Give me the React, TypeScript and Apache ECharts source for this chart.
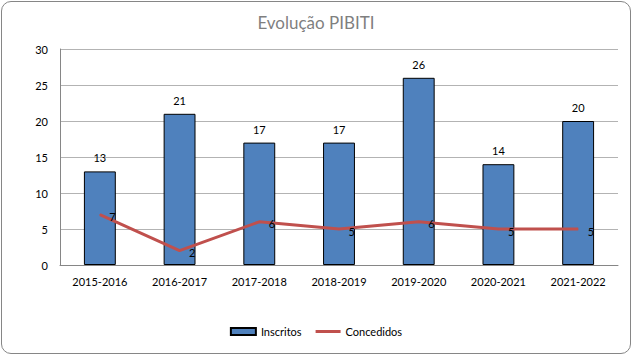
import React, { useEffect, useRef } from "react";
import * as echarts from "echarts";

const categories = ["2015-2016", "2016-2017", "2017-2018", "2018-2019", "2019-2020", "2020-2021", "2021-2022"];
const inscritos = [13, 21, 17, 17, 26, 14, 20];
const concedidos = [7, 2, 6, 5, 6, 5, 5];
const FONT = "Lato, 'Open Sans', sans-serif";

export default function App() {
  const ref = useRef<HTMLDivElement>(null);
  useEffect(() => {
    const chart = echarts.init(ref.current!, null, { renderer: "svg" });
    chart.setOption({
      animation: false,
      backgroundColor: "#ffffff",
      textStyle: { fontFamily: FONT },
      title: {
        text: "Evolução PIBITI",
        left: "center",
        top: 9,
        textStyle: { color: "#7f7f7f", fontSize: 17, fontWeight: "normal", fontFamily: FONT },
      },
      grid: { left: 60, right: 14, top: 49, bottom: 90, containLabel: false },
      legend: {
        bottom: 13,
        left: "center",
        itemWidth: 25,
        itemHeight: 7,
        itemGap: 14,
        textStyle: { color: "#000", fontSize: 11, fontFamily: FONT },
        data: [
          { name: "Inscritos", icon: "rect" },
          {
            name: "Concedidos",
            icon: "path://M0,0 L25,0 L25,3 L0,3 Z",
            itemStyle: { color: "#C0504D", borderWidth: 0 },
          },
        ],
      },
      xAxis: {
        type: "category",
        data: categories,
        axisLine: { lineStyle: { color: "#868686" } },
        axisTick: { show: false },
        axisLabel: { color: "#000", fontSize: 11, margin: 11, fontFamily: FONT },
      },
      yAxis: {
        type: "value",
        min: 0,
        max: 30,
        interval: 5,
        axisLine: { show: true, lineStyle: { color: "#868686" } },
        axisTick: { show: false },
        splitLine: { lineStyle: { color: "#b3b3b3" } },
        axisLabel: { color: "#000", fontSize: 11, margin: 12, fontFamily: FONT },
      },
      series: [
        {
          name: "Inscritos",
          type: "bar",
          data: inscritos,
          barWidth: "40%",
          itemStyle: { color: "#4F81BD", borderColor: "#000", borderWidth: 1 },
          label: { show: true, position: "top", distance: 8, color: "#000", fontSize: 11, fontFamily: FONT },
        },
        {
          name: "Concedidos",
          type: "line",
          data: concedidos,
          symbol: "circle",
          symbolSize: 1,
          showSymbol: true,
          z: 3,
          lineStyle: { color: "#C0504D", width: 3 },
          itemStyle: { color: "#C0504D" },
          label: { show: true, position: "right", distance: 9, offset: [0, 2], color: "#000", fontSize: 11, fontFamily: FONT },
        },
      ],
    });
    return () => chart.dispose();
  }, []);
  return (
    <div
      style={{
        position: "fixed",
        left: 0,
        top: 0,
        width: 632,
        height: 355,
        background: "#fff",
      }}
    >
      <div ref={ref} style={{ position: "absolute", left: 0, top: 0, width: 632, height: 355 }} />
      <div
        style={{
          position: "absolute",
          left: 1,
          top: 1,
          width: 628,
          height: 351,
          border: "1px solid #868686",
          borderRadius: 10,
          pointerEvents: "none",
        }}
      />
    </div>
  );
}
